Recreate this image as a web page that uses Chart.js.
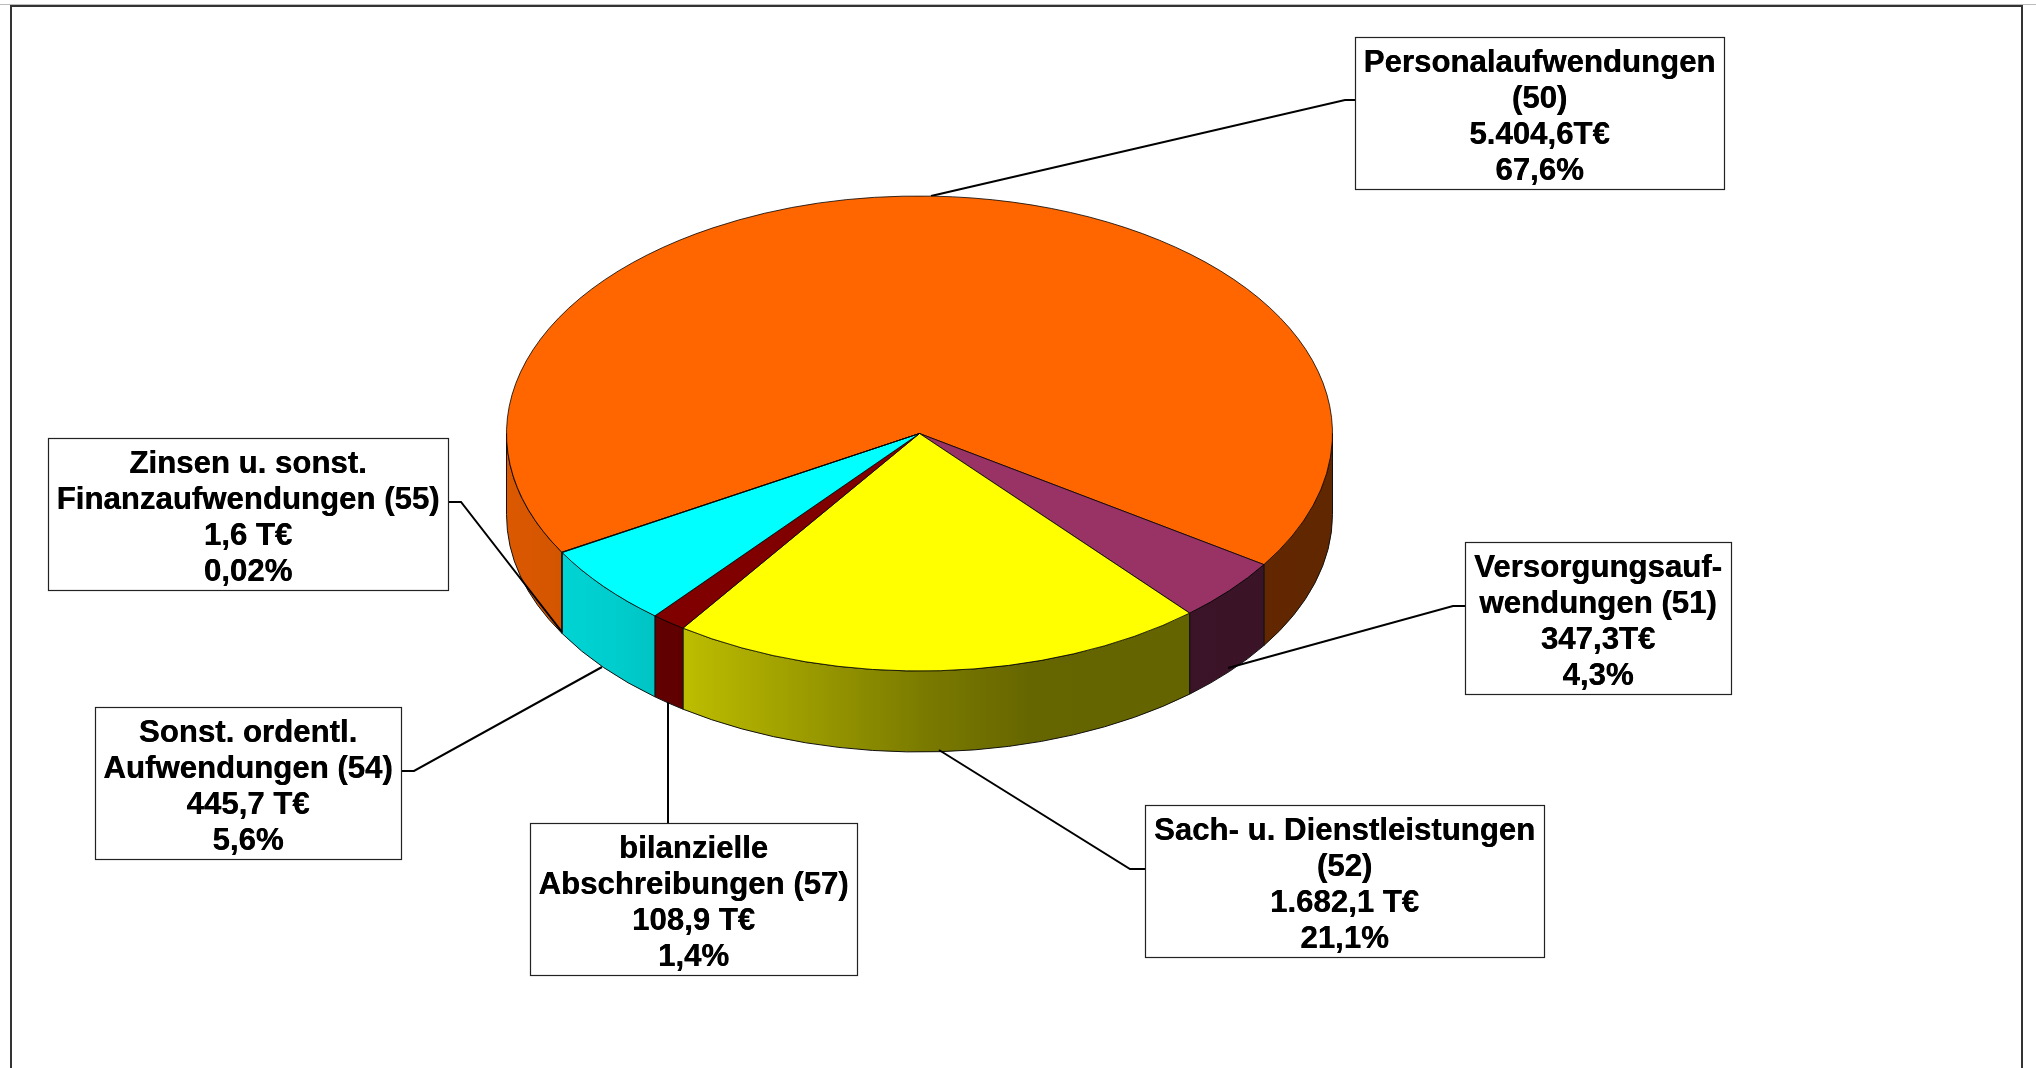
<!DOCTYPE html>
<html>
<head>
<meta charset="utf-8">
<title>Aufwendungen</title>
<script src="https://cdn.jsdelivr.net/npm/chart.js@4/dist/chart.umd.min.js"></script>
<style>
	html, body { margin: 0; padding: 0; background: #fff; }
	canvas { display: block; }
</style>
</head>
<body>
<canvas id="chart" width="2036" height="1068"></canvas>
<script>
// same order as the slices run clockwise, starting at the big one
const categories = [
	['Personalaufwendungen', '(50)'],
	['Versorgungsauf-', 'wendungen (51)'],
	['Sach- u. Dienstleistungen', '(52)'],
	['bilanzielle', 'Abschreibungen (57)'],
	['Sonst. ordentl.', 'Aufwendungen (54)'],
	['Zinsen u. sonst.', 'Finanzaufwendungen (55)']
]
const values = [5404.6, 347.3, 1682.1, 108.9, 445.7, 1.6]
const valueLabels = ['5.404,6T€', '347,3T€', '1.682,1 T€', '108,9 T€', '445,7 T€', '1,6 T€']
const percentLabels = ['67,6%', '4,3%', '21,1%', '1,4%', '5,6%', '0,02%']
const sliceColors = [[255, 102, 0], [153, 51, 102], [255, 255, 0], [128, 0, 0], [0, 255, 255], [255, 255, 255]]

// label box x, y, w, h and the leader polyline, in page pixels
const callouts = [
	{ box: [1355, 37, 369, 152], leader: [[931, 196], [1345, 100], [1355, 100]] },
	{ box: [1465, 542, 266, 152], leader: [[1228, 668], [1453, 606], [1465, 606]] },
	{ box: [1145, 805, 399, 152], leader: [[939, 750], [1130, 869], [1145, 869]] },
	{ box: [530, 823, 327, 152], leader: [[668, 702], [668, 823]] },
	{ box: [95, 707, 306, 152], leader: [[602, 667], [414, 771], [401, 771]] },
	{ box: [48, 438, 400, 152], leader: [[562, 632], [461, 502], [448, 502]] }
]

const squash = 0.575
const wallDepth = 81
// darkening of the side wall going left to right over the pie width
const wallShade = [[0, 0.86], [0.138, 0.8], [0.214, 0.74], [0.507, 0.48], [0.634, 0.4], [1, 0.38]]
const font = 'bold 31.2px "Liberation Sans", Arial, sans-serif'

function rgb(c, k) {
	return 'rgb(' + c.map(v => Math.round(v * k)).join(',') + ')'
}

function drawFrame(ctx) {
	ctx.save()
	ctx.strokeStyle = '#bbb'
	ctx.lineWidth = 1
	ctx.beginPath()
	ctx.moveTo(0, 4.5)
	ctx.lineTo(2036, 4.5)
	ctx.stroke()
	ctx.strokeStyle = '#333'
	ctx.lineWidth = 2
	ctx.beginPath()
	ctx.moveTo(11, 1068)
	ctx.lineTo(11, 6)
	ctx.lineTo(2022, 6)
	ctx.lineTo(2022, 1068)
	ctx.stroke()
	ctx.restore()
}

function drawLeaders(ctx) {
	ctx.save()
	ctx.strokeStyle = '#000'
	ctx.lineWidth = 2
	callouts.forEach(c => {
		ctx.beginPath()
		c.leader.forEach((p, i) => i ? ctx.lineTo(p[0], p[1]) : ctx.moveTo(p[0], p[1]))
		ctx.stroke()
	})
	ctx.restore()
}

// side wall of the pie, taken from the angles chart.js gave each arc
function drawWalls(chart) {
	const ctx = chart.ctx
	chart.getDatasetMeta(0).data.forEach((arc, i) => {
		const rx = arc.outerRadius
		const ry = rx * squash
		const grad = ctx.createLinearGradient(arc.x - rx, 0, arc.x + rx, 0)
		wallShade.forEach(s => grad.addColorStop(s[0], rgb(sliceColors[i], s[1])))
		for (let k = -1; k < 3; k++) {
			const a = Math.max(arc.startAngle, k * 2 * Math.PI)
			const b = Math.min(arc.endAngle, k * 2 * Math.PI + Math.PI)
			if (b <= a) continue
			ctx.beginPath()
			ctx.ellipse(arc.x, arc.y, rx, ry, 0, a, b)
			ctx.ellipse(arc.x, arc.y + wallDepth, rx, ry, 0, b, a, true)
			ctx.closePath()
			ctx.fillStyle = grad
			ctx.fill()
			ctx.strokeStyle = '#111'
			ctx.lineWidth = 1
			ctx.stroke()
		}
	})
}

function drawCallouts(ctx) {
	ctx.save()
	ctx.font = font
	ctx.textAlign = 'center'
	ctx.textBaseline = 'alphabetic'
	callouts.forEach((c, i) => {
		const [x, y, w, h] = c.box
		ctx.fillStyle = '#fff'
		ctx.fillRect(x, y, w, h)
		ctx.strokeStyle = '#222'
		ctx.lineWidth = 1.2
		ctx.strokeRect(x + 0.5, y + 0.5, w, h)
		ctx.fillStyle = '#000'
		// small offset copy, the reference glyphs are a bit heavier
		ctx.shadowColor = '#000'
		ctx.shadowOffsetX = 0.4
		const lines = categories[i].concat(valueLabels[i], percentLabels[i])
		lines.forEach((t, n) => ctx.fillText(t, x + w / 2, y + 34.5 + n * 36.2))
		ctx.shadowColor = 'transparent'
		ctx.shadowOffsetX = 0
	})
	ctx.restore()
}

const pie3d = {
	id: 'pie3d',
	beforeDatasetsDraw(chart) {
		const ctx = chart.ctx
		const arc = chart.getDatasetMeta(0).data[0]
		drawFrame(ctx)
		drawWalls(chart)
		drawLeaders(ctx)
		// the flat top: chart.js draws its arcs, we only squash them into an ellipse
		ctx.save()
		ctx.translate(arc.x, arc.y)
		ctx.scale(1, squash)
		ctx.translate(-arc.x, -arc.y)
	},
	afterDatasetsDraw(chart) {
		chart.ctx.restore()
		drawCallouts(chart.ctx)
	}
}

new Chart(document.getElementById('chart'), {
	type: 'pie',
	data: {
		labels: categories.map(c => c.join(' ')),
		datasets: [{
			data: values,
			backgroundColor: sliceColors.map(c => rgb(c, 1)),
			borderColor: '#000',
			borderWidth: 1
		}]
	},
	options: {
		responsive: false,
		animation: false,
		devicePixelRatio: 1,
		rotation: 240,
		layout: { padding: { left: 506, right: 703, top: 20, bottom: 221 } },
		plugins: { legend: { display: false }, tooltip: { enabled: false } }
	},
	plugins: [pie3d]
})
</script>
</body>
</html>
